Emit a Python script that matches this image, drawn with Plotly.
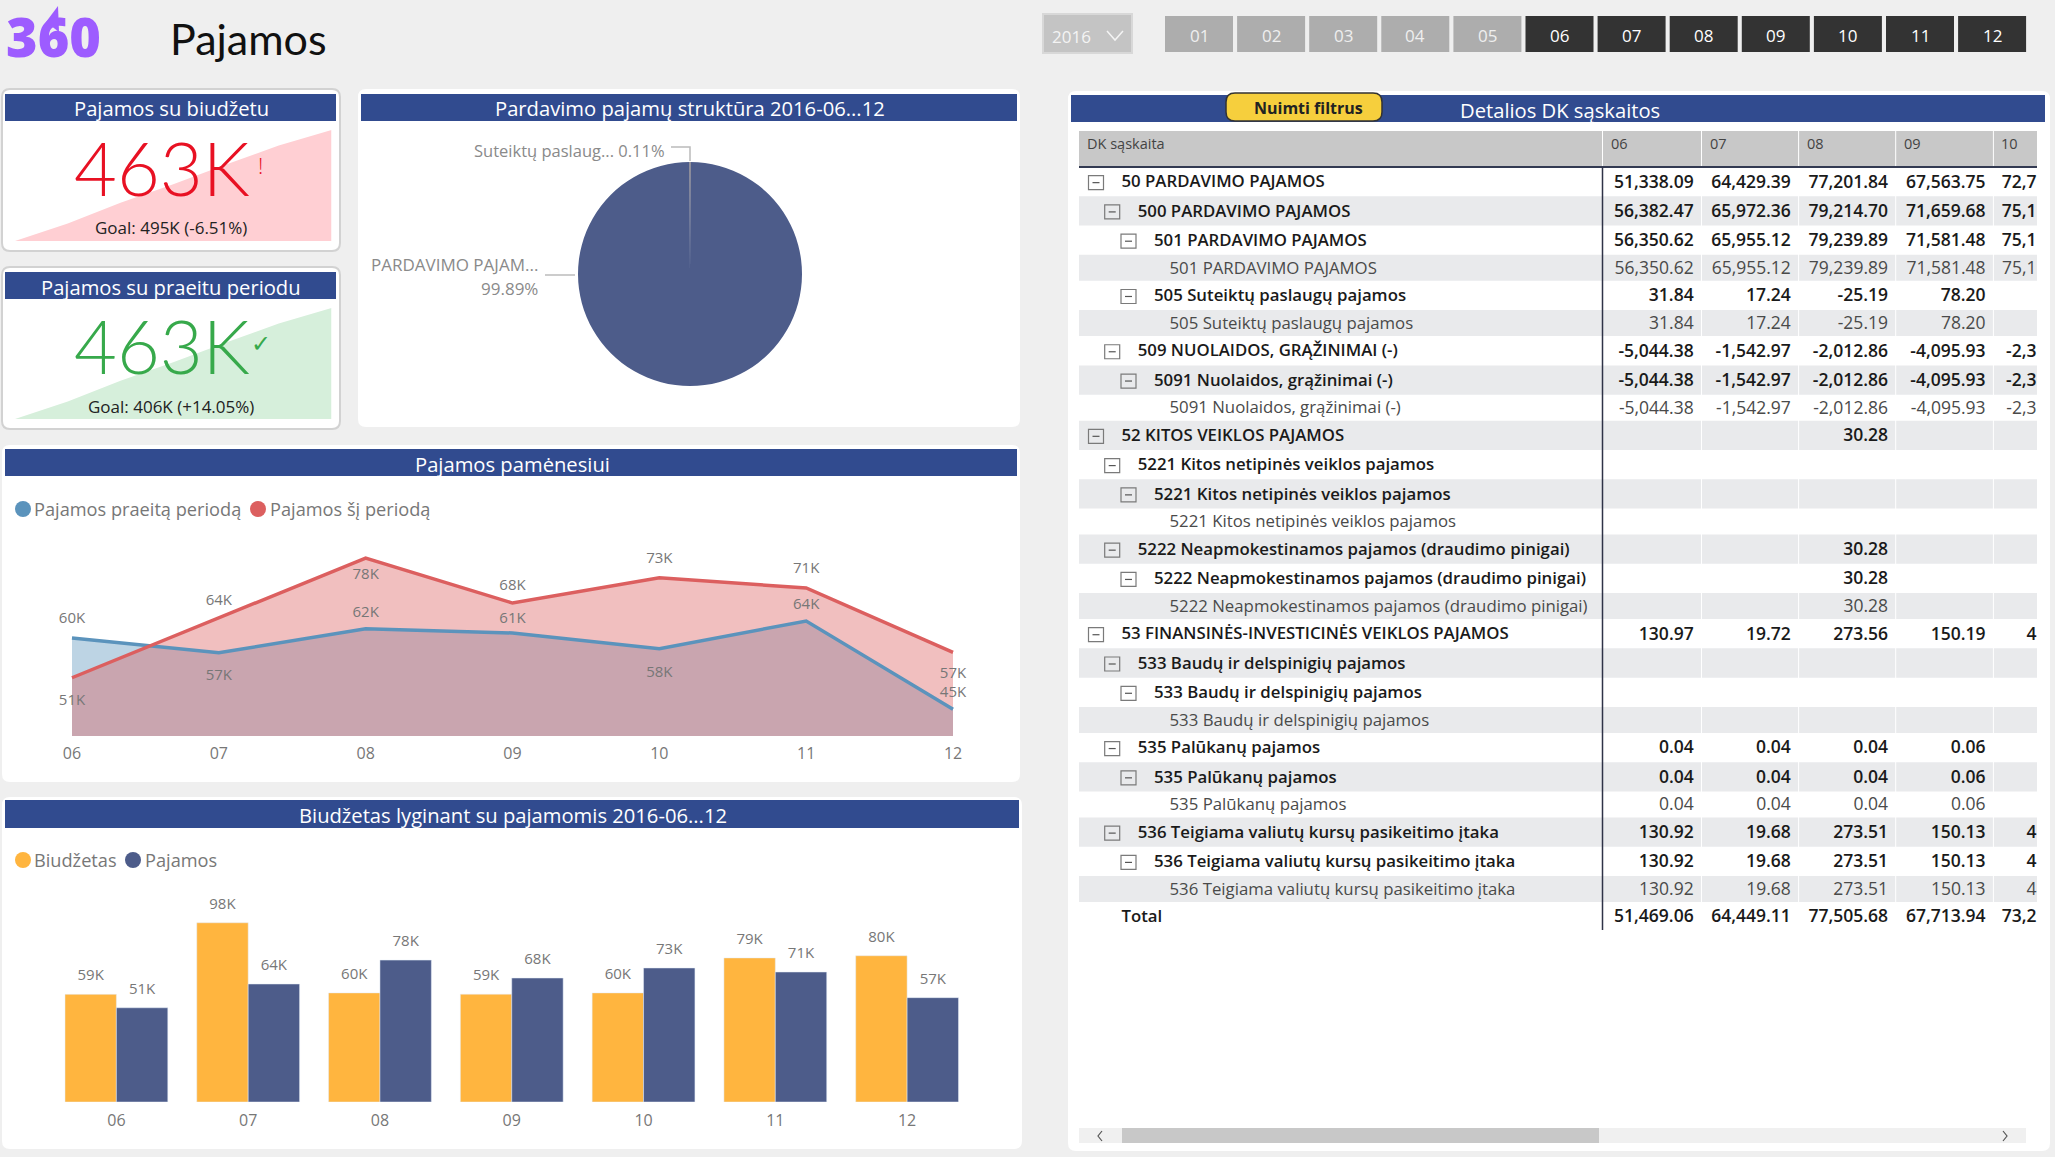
import plotly.graph_objects as go

W, H = 2055, 1157
FONT = "Open Sans"
HEADER = "#314B8F"
GREY_TXT = "#777777"

months_all = ["01", "02", "03", "04", "05", "06", "07", "08", "09", "10", "11", "12"]
months_active = ["06", "07", "08", "09", "10", "11", "12"]
months = ["06", "07", "08", "09", "10", "11", "12"]

this_period = [51469, 64449, 77506, 67714, 73200, 71000, 57000]
last_period = [60100, 56900, 62100, 61200, 57800, 63800, 44600]
budget = [58800, 97900, 59600, 58900, 59600, 78700, 79900]
cumulative = [51469, 115918, 193424, 261138, 334338, 405338, 462338]

# where each data label sits and how far from its point
line_pos_this = ["bottom center", "top center", "bottom center", "top center", "top center", "top center", "bottom center"]
line_pos_last = ["top center", "bottom center", "top center", "top center", "bottom center", "top center", "top center"]
line_gap_this = [24, 14, 14, 14, 16, 16, 22]
line_gap_last = [16, 24, 11, 8, 26, 11, 12]

pie_labels = ["Suteiktų paslaugų pajamos", "PARDAVIMO PAJAMOS"]
pie_values = [0.11, 99.89]

row_labels = [
    "50 PARDAVIMO PAJAMOS", "500 PARDAVIMO PAJAMOS", "501 PARDAVIMO PAJAMOS", "501 PARDAVIMO PAJAMOS",
    "505 Suteiktų paslaugų pajamos", "505 Suteiktų paslaugų pajamos", "509 NUOLAIDOS, GRĄŽINIMAI (-)",
    "5091 Nuolaidos, grąžinimai (-)", "5091 Nuolaidos, grąžinimai (-)", "52 KITOS VEIKLOS PAJAMOS",
    "5221 Kitos netipinės veiklos pajamos", "5221 Kitos netipinės veiklos pajamos", "5221 Kitos netipinės veiklos pajamos",
    "5222 Neapmokestinamos pajamos (draudimo pinigai)", "5222 Neapmokestinamos pajamos (draudimo pinigai)",
    "5222 Neapmokestinamos pajamos (draudimo pinigai)", "53 FINANSINĖS-INVESTICINĖS VEIKLOS PAJAMOS",
    "533 Baudų ir delspinigių pajamos", "533 Baudų ir delspinigių pajamos", "533 Baudų ir delspinigių pajamos",
    "535 Palūkanų pajamos", "535 Palūkanų pajamos", "535 Palūkanų pajamos",
    "536 Teigiama valiutų kursų pasikeitimo įtaka", "536 Teigiama valiutų kursų pasikeitimo įtaka",
    "536 Teigiama valiutų kursų pasikeitimo įtaka", "Total",
]
row_levels = [0, 1, 2, 3, 2, 3, 1, 2, 3, 0, 1, 2, 3, 1, 2, 3, 0, 1, 2, 3, 1, 2, 3, 1, 2, 3, 0]

col_06 = [51338.09, 56382.47, 56350.62, 56350.62, 31.84, 31.84, -5044.38, -5044.38, -5044.38, None, None, None, None,
          None, None, None, 130.97, None, None, None, 0.04, 0.04, 0.04, 130.92, 130.92, 130.92, 51469.06]
col_07 = [64429.39, 65972.36, 65955.12, 65955.12, 17.24, 17.24, -1542.97, -1542.97, -1542.97, None, None, None, None,
          None, None, None, 19.72, None, None, None, 0.04, 0.04, 0.04, 19.68, 19.68, 19.68, 64449.11]
col_08 = [77201.84, 79214.70, 79239.89, 79239.89, -25.19, -25.19, -2012.86, -2012.86, -2012.86, 30.28, None, None, None,
          30.28, 30.28, 30.28, 273.56, None, None, None, 0.04, 0.04, 0.04, 273.51, 273.51, 273.51, 77505.68]
col_09 = [67563.75, 71659.68, 71581.48, 71581.48, 78.20, 78.20, -4095.93, -4095.93, -4095.93, None, None, None, None,
          None, None, None, 150.19, None, None, None, 0.06, 0.06, 0.06, 150.13, 150.13, 150.13, 67713.94]
# this column is cut by the scrollable area, only the visible part can be read
col_10 = ["72,7", "75,1", "75,1", "75,1", "", "", "-2,3", "-2,3", "-2,3", "", "", "", "", "", "", "", "4", "", "", "",
          "", "", "", "4", "4", "4", "73,2"]


def k(v):
    return f"{round(v / 1000)}K"


def num(v):
    return "" if v is None else f"{v:,.2f}"


def rr(x0, y0, x1, y1, r):
    # rounded rectangle in paper fractions is distorted, so go through pixels
    fx = lambda v: v / W
    fy = lambda v: 1 - v / H
    rx, ry = r / W, r / H
    return (f"M {fx(x0) + rx} {fy(y0)} L {fx(x1) - rx} {fy(y0)} Q {fx(x1)} {fy(y0)} {fx(x1)} {fy(y0) - ry} "
            f"L {fx(x1)} {fy(y1) + ry} Q {fx(x1)} {fy(y1)} {fx(x1) - rx} {fy(y1)} "
            f"L {fx(x0) + rx} {fy(y1)} Q {fx(x0)} {fy(y1)} {fx(x0)} {fy(y1) + ry} "
            f"L {fx(x0)} {fy(y0) - ry} Q {fx(x0)} {fy(y0)} {fx(x0) + rx} {fy(y0)} Z")


shapes = []
annots = []


def box(x0, y0, x1, y1, fill, line=None, lw=0, r=0, layer="below"):
    s = dict(type="path", path=rr(x0, y0, x1, y1, r), xref="paper", yref="paper", fillcolor=fill, layer=layer,
             line=dict(color=line or fill, width=lw))
    shapes.append(s)


def seg(pts, color, lw=1.5, layer="below"):
    path = "M " + " L ".join(f"{x / W} {1 - y / H}" for x, y in pts)
    shapes.append(dict(type="path", path=path, xref="paper", yref="paper", line=dict(color=color, width=lw), layer=layer))


def label(x, y, text, size, color=GREY_TXT, anchor="center", weight=400, family=FONT):
    annots.append(dict(x=x / W, y=1 - y / H, xref="paper", yref="paper", text=text, showarrow=False, xanchor=anchor,
                       yanchor="middle", align=anchor, borderpad=0, font=dict(family=family, size=size, color=color, weight=weight)))


def dot(x, y, r, color):
    shapes.append(dict(type="circle", xref="paper", yref="paper", x0=(x - r) / W, x1=(x + r) / W, y0=1 - (y + r) / H,
                       y1=1 - (y - r) / H, fillcolor=color, line=dict(width=0), layer="below"))


def dom_x(a, b):
    return [a / W, b / W]


def dom_y(top, bottom):
    return [1 - bottom / H, 1 - top / H]


# page top: logo, title and slicers
label(53, 36, "360", 54, "#9D5CFF", weight=800)
shapes.append(dict(type="path", path=f"M {46 / W} {1 - 22 / H} L {58 / W} {1 - 6 / H} L {59 / W} {1 - 32 / H} Z",
                   xref="paper", yref="paper", fillcolor="#9D5CFF", line=dict(width=0)))
label(169, 39, "Pajamos", 43, "#111111", anchor="left", weight=400, family="Lato")

box(1043, 14, 1132, 53, "#C4C4C4", "#D8D8D8", 2)
label(1071, 37, "2016", 17, "#F4F4F4")
seg([(1107, 31), (1115, 40), (1123, 31)], "#F4F4F4", 1.5)
for i, m in enumerate(months_all):
    x0 = 1165 + i * 72.1
    active = m in months_active
    box(x0, 16, x0 + 68, 52, "#333333" if active else "#ADADAD")
    label(x0 + 34, 35, m, 17, "#FFFFFF" if active else "#EFEFEF")

# cards and their blue title bands
box(2, 89, 340, 251, "#FFFFFF", "#D2D2D2", 2, 8)
box(2, 267, 340, 429, "#FFFFFF", "#D2D2D2", 2, 8)
box(358, 89, 1020, 427, "#FFFFFF", r=8)
box(2, 445, 1020, 782, "#FFFFFF", r=8)
box(2, 797, 1022, 1149, "#FFFFFF", r=8)
box(1068, 91, 2050, 1151, "#FFFFFF", r=8)
for x0, y0, x1, y1, t, cx in [
    (5, 94, 336, 121, "Pajamos su biudžetu", 171),
    (5, 272, 336, 299, "Pajamos su praeitu periodu", 171),
    (361, 94, 1017, 121, "Pardavimo pajamų struktūra 2016-06...12", 690),
    (5, 449, 1017, 476, "Pajamos pamėnesiui", 512),
    (5, 800, 1019, 828, "Biudžetas lyginant su pajamomis 2016-06...12", 513),
    (1071, 95, 2045, 122, "Detalios DK sąskaitos", 1560),
]:
    box(x0, y0, x1, y1, HEADER)
    label(cx, (y0 + y1) / 2 + 1, t, 20.2, "#FFFFFF")

box(1226, 93, 1382, 121, "#F6CF3D", "#333333", 1.5, 9, layer="above")
label(1308, 108, "Nuimti filtrus", 16, "#222222", weight=700)

# KPI cards
label(162, 167, "463K", 74, "#E81123", weight=300, family="Lato")
label(260, 165, "!", 22, "#E81123", weight=300)
label(171, 228, "Goal: 495K (-6.51%)", 17, "#222222")
label(162, 345, "463K", 74, "#37A94B", weight=300, family="Lato")
label(261, 342, "✓", 24, "#37A94B")
label(171, 406, "Goal: 406K (+14.05%)", 17, "#222222")

# pie call-outs
label(666, 150, "Suteiktų paslaug... 0.11%", 16.5, "#8A8A8A", anchor="right")
seg([(671, 147), (690, 147), (690, 161)], "#BBBBBB", 1.5)
label(539, 264, "PARDAVIMO PAJAM...", 17, "#8A8A8A", anchor="right")
label(539, 289, "99.89%", 17, "#8A8A8A", anchor="right")
seg([(545, 275), (575, 275)], "#BBBBBB", 1.5)

# legends
dot(23, 509, 8, "#5B93BC")
label(33, 509, "Pajamos praeitą periodą", 18.2, GREY_TXT, anchor="left")
dot(258, 509, 8, "#DC5F5F")
label(269, 509, "Pajamos šį periodą", 18.2, GREY_TXT, anchor="left")
dot(23, 860, 8, "#FFB53F")
label(33, 860, "Biudžetas", 18.2, GREY_TXT, anchor="left")
dot(133, 860, 8, "#4D5C8A")
label(144, 860, "Pajamos", 18.2, GREY_TXT, anchor="left")

fig = go.Figure()

# monthly area chart: fills first, lines and labels stay on top of both fills
fig.add_trace(go.Scatter(x=months, y=last_period, mode="none", fill="tozeroy", fillcolor="rgba(91,147,188,0.4)",
                         xaxis="x", yaxis="y", showlegend=False))
fig.add_trace(go.Scatter(x=months, y=this_period, mode="none", fill="tozeroy", fillcolor="rgba(220,95,95,0.4)",
                         xaxis="x", yaxis="y", showlegend=False))
fig.add_trace(go.Scatter(x=months, y=last_period, mode="lines+markers+text", line=dict(color="#5B93BC", width=3.5),
                         marker=dict(size=line_gap_last, opacity=0), text=[k(v) for v in last_period],
                         textposition=line_pos_last, textfont=dict(family=FONT, size=15, color=GREY_TXT),
                         xaxis="x", yaxis="y", showlegend=False))
fig.add_trace(go.Scatter(x=months, y=this_period, mode="lines+markers+text", line=dict(color="#DC5F5F", width=3.5),
                         marker=dict(size=line_gap_this, opacity=0), text=[k(v) for v in this_period],
                         textposition=line_pos_this, textfont=dict(family=FONT, size=15, color=GREY_TXT),
                         xaxis="x", yaxis="y", showlegend=False))

# budget bars, labels go on a numeric twin axis to sit a bit higher than bar text would
fig.add_trace(go.Bar(x=months, y=budget, marker_color="#FFB53F", xaxis="x2", yaxis="y2", showlegend=False))
fig.add_trace(go.Bar(x=months, y=this_period, marker_color="#4D5C8A", xaxis="x2", yaxis="y2", showlegend=False))
for shift, series in [(-0.195, budget), (0.195, this_period)]:
    fig.add_trace(go.Scatter(x=[i + shift for i in range(len(months))], y=series, mode="markers+text",
                             marker=dict(size=15, opacity=0), text=[k(v) for v in series], textposition="top center",
                             textfont=dict(family=FONT, size=15, color=GREY_TXT), xaxis="x6", yaxis="y2",
                             showlegend=False))

# KPI trend areas, same cumulative series on both cards
fig.add_trace(go.Scatter(x=months, y=cumulative, mode="none", fill="tozeroy", fillcolor="#FFCFD3",
                         xaxis="x3", yaxis="y3", showlegend=False))
fig.add_trace(go.Scatter(x=months, y=cumulative, mode="none", fill="tozeroy", fillcolor="#D6EFDB",
                         xaxis="x4", yaxis="y4", showlegend=False))

# structure pie
fig.add_trace(go.Pie(labels=pie_labels, values=pie_values, sort=False, direction="clockwise", rotation=-0.2,
                     marker=dict(colors=["#FFB53F", "#4D5C8A"], line=dict(width=0)), textinfo="none", showlegend=False,
                     domain=dict(x=dom_x(578, 802), y=dom_y(162, 386))))

# table, drawn on an axis pair running in row/column units of the page
TL, TR, TT, TB = 1079, 2037, 131, 932
row_y = []
pos = 167.0
row_h = []
for lvl, name in zip(row_levels, row_labels):
    h = 26.0 if lvl == 3 else 29.28
    if name == "Total":
        h = 28.0
    row_y.append(pos + h / 2)
    row_h.append(h)
    pos += h
text_y = [y + 1.5 for y in row_y]

text_x = [1121.5, 1137.7, 1154, 1169.5]
icon_x = [1088.5, 1104.7, 1121]
col_right = [1693.7, 1790.8, 1888, 1985.6, 2036.5]
col_lines = [1602.5, 1701.5, 1798.6, 1895.7, 1993.4]
col_heads = ["06", "07", "08", "09", "10"]


def tshape(**kw):
    shapes.append(dict(xref="x5", yref="y5", **kw))


tshape(type="rect", x0=TL, x1=TR, y0=TT, y1=167, fillcolor="#C8C8C8", line=dict(width=0), layer="below")
top = 167.0
for i, h in enumerate(row_h):
    if i % 2 == 1:
        tshape(type="rect", x0=TL, x1=TR, y0=top, y1=top + h, fillcolor="#E9EAEC", line=dict(width=0), layer="below")
    lvl = row_levels[i]
    if lvl < 3 and row_labels[i] != "Total":
        ix, iy = icon_x[lvl], row_y[i] + 1
        tshape(type="rect", x0=ix, x1=ix + 15, y0=iy - 7, y1=iy + 7, line=dict(color="#7A7A7A", width=1.2), layer="above")
        tshape(type="line", x0=ix + 4, x1=ix + 11, y0=iy, y1=iy, line=dict(color="#555555", width=1.2), layer="above")
    top += h
for x in col_lines[1:]:
    tshape(type="line", x0=x, x1=x, y0=TT, y1=top - 28, line=dict(color="#FFFFFF", width=1), layer="below")
tshape(type="line", x0=col_lines[0], x1=col_lines[0], y0=TT, y1=167, line=dict(color="#FFFFFF", width=1), layer="below")
tshape(type="line", x0=TL, x1=TR, y0=167, y1=167, line=dict(color="#333A52", width=2), layer="above")
tshape(type="line", x0=col_lines[0], x1=col_lines[0], y0=167, y1=top, line=dict(color="#2F3347", width=1.5), layer="above")

bold = [i for i, l in enumerate(row_levels) if l < 3 or row_labels[i] == "Total"]
leaf = [i for i, l in enumerate(row_levels) if l == 3]
for idx, weight, color in [(bold, 600, "#1A1A1A"), (leaf, 400, "#4A4A4A")]:
    fig.add_trace(go.Scatter(x=[text_x[row_levels[i]] for i in idx], y=[text_y[i] for i in idx], mode="text",
                             text=[row_labels[i] for i in idx], textposition="middle right",
                             textfont=dict(family=FONT, size=16.8, color=color, weight=weight),
                             xaxis="x5", yaxis="y5", showlegend=False))
    for right, col in zip(col_right, [[num(v) for v in c] for c in (col_06, col_07, col_08, col_09)] + [col_10]):
        fig.add_trace(go.Scatter(x=[right] * len(idx), y=[text_y[i] for i in idx], mode="text",
                                 text=[col[i] for i in idx], textposition="middle left",
                                 textfont=dict(family=FONT, size=17.5, color=color, weight=weight),
                                 xaxis="x5", yaxis="y5", showlegend=False))

label(1086, 144, "DK sąskaita", 14.5, "#444444", anchor="left")
for x, t in zip(col_lines, col_heads):
    label(x + 7, 144, t, 14.5, "#444444", anchor="left")

# horizontal scrollbar of the table
box(1079, 1128, 2026, 1143, "#F0F0F0")
box(1122, 1128, 1599, 1143, "#C8C8C8")
seg([(1102, 1131), (1098, 1136), (1102, 1141)], "#555555", 1.2)
seg([(2003, 1131), (2007, 1136), (2003, 1141)], "#555555", 1.2)

hidden = dict(visible=False, fixedrange=True)
tick_x = dict(type="category", showgrid=False, zeroline=False, showline=False, ticks="outside", ticklen=3,
              tickcolor="rgba(0,0,0,0)", tickfont=dict(family=FONT, size=16, color=GREY_TXT), fixedrange=True)

fig.update_layout(
    width=W, height=H, autosize=False, margin=dict(l=0, r=0, t=0, b=0),
    paper_bgcolor="#EFEFEF", plot_bgcolor="rgba(0,0,0,0)",
    barmode="group", bargap=0.22, bargroupgap=0, shapes=shapes, annotations=annots, font=dict(family=FONT),
    xaxis=dict(tick_x, domain=dom_x(57.3, 967.7), range=[-0.1, 6.1], anchor="y"),
    yaxis=dict(hidden, domain=dom_y(530, 736), range=[38800, 83600], anchor="x"),
    xaxis2=dict(tick_x, ticklen=4, domain=dom_x(50.5, 973), range=[-0.5, 6.5], anchor="y2"),
    yaxis2=dict(hidden, domain=dom_y(890, 1102), range=[0, 115800], anchor="x2"),
    xaxis3=dict(hidden, type="category", domain=dom_x(15, 331.5), range=[0, 6], anchor="y3"),
    yaxis3=dict(hidden, domain=dom_y(130, 241), range=[51469, 462338], anchor="x3"),
    xaxis4=dict(hidden, type="category", domain=dom_x(15, 331.5), range=[0, 6], anchor="y4"),
    yaxis4=dict(hidden, domain=dom_y(308, 419), range=[51469, 462338], anchor="x4"),
    xaxis5=dict(hidden, domain=dom_x(TL, TR), range=[TL, TR], anchor="y5"),
    yaxis5=dict(hidden, domain=dom_y(TT, TB), range=[TB, TT], anchor="x5"),
    xaxis6=dict(hidden, domain=dom_x(50.5, 973), range=[-0.5, 6.5], anchor="y2"),
)

fig.write_html("out.html", config=dict(displayModeBar=False),
               post_script="document.body.style.margin='0';document.body.style.overflow='hidden';")
